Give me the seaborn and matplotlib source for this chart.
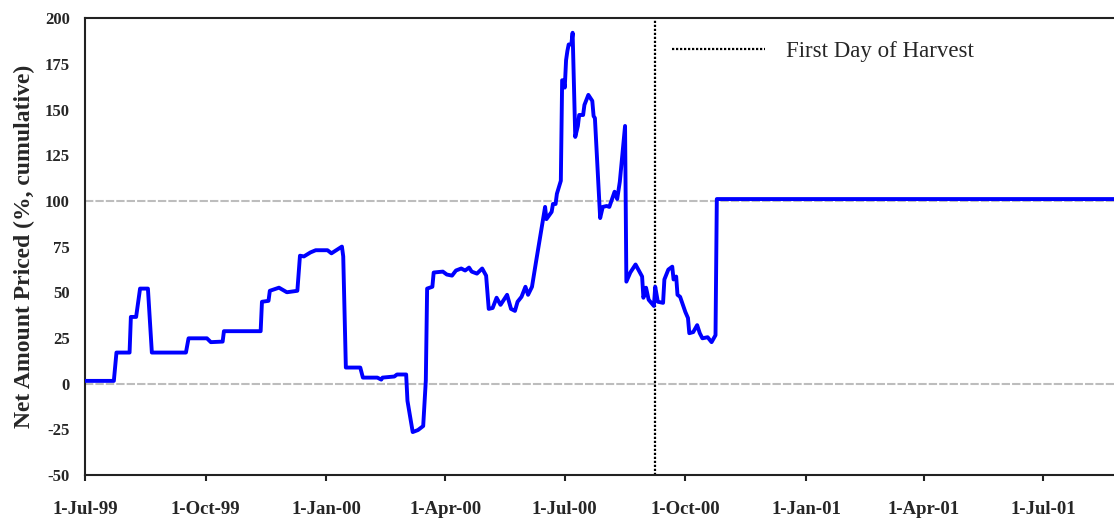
import pandas as pd
import matplotlib
matplotlib.use('Agg')
import matplotlib.pyplot as plt
import matplotlib.dates as mdates
import seaborn as sns

# values
dates = ['1999-07-01', '1999-07-23', '1999-07-25', '1999-08-04', '1999-08-05', '1999-08-09',
         '1999-08-12', '1999-08-18', '1999-08-21', '1999-09-16', '1999-09-18', '1999-10-02',
         '1999-10-05', '1999-10-14', '1999-10-15', '1999-11-12', '1999-11-13', '1999-11-18',
         '1999-11-19', '1999-11-26', '1999-11-30', '1999-12-02', '1999-12-10', '1999-12-12',
         '1999-12-15', '1999-12-20', '1999-12-24', '2000-01-02', '2000-01-05', '2000-01-13',
         '2000-01-14', '2000-01-16', '2000-01-27', '2000-01-29', '2000-02-09', '2000-02-12',
         '2000-02-13', '2000-02-22', '2000-02-24', '2000-03-02', '2000-03-03', '2000-03-07',
         '2000-03-11', '2000-03-15', '2000-03-17', '2000-03-18', '2000-03-22', '2000-03-23',
         '2000-03-30', '2000-04-02', '2000-04-06', '2000-04-09', '2000-04-13', '2000-04-16',
         '2000-04-19', '2000-04-21', '2000-04-25', '2000-04-29', '2000-05-02', '2000-05-04',
         '2000-05-07', '2000-05-10', '2000-05-13', '2000-05-18', '2000-05-21', '2000-05-24',
         '2000-05-26', '2000-05-29', '2000-06-01', '2000-06-03', '2000-06-06', '2000-06-09',
         '2000-06-16', '2000-06-17', '2000-06-21', '2000-06-22', '2000-06-24', '2000-06-25',
         '2000-06-28', '2000-06-29', '2000-06-30', '2000-07-01', '2000-07-02', '2000-07-03',
         '2000-07-04', '2000-07-06', '2000-07-07', '2000-07-09', '2000-07-11', '2000-07-12',
         '2000-07-15', '2000-07-16', '2000-07-19', '2000-07-22', '2000-07-23', '2000-07-24',
         '2000-07-28', '2000-07-30', '2000-08-02', '2000-08-04', '2000-08-08', '2000-08-10',
         '2000-08-12', '2000-08-16', '2000-08-17', '2000-08-20', '2000-08-24', '2000-08-29',
         '2000-08-30', '2000-09-01', '2000-09-03', '2000-09-07', '2000-09-08', '2000-09-10',
         '2000-09-14', '2000-09-15', '2000-09-18', '2000-09-21', '2000-09-22', '2000-09-24',
         '2000-09-25', '2000-09-27', '2000-10-01', '2000-10-03', '2000-10-04', '2000-10-07',
         '2000-10-10', '2000-10-12', '2000-10-14', '2000-10-18', '2000-10-21', '2000-10-24',
         '2000-10-25', '2001-08-31']
net_priced = [1.5, 1.5, 17, 17, 36.5, 36.5,
              52, 52, 17, 17, 24.8, 24.8,
              22.7, 23, 28.7, 28.7, 44.8, 45.3,
              50.8, 52.5, 50.8, 50, 50.8, 70,
              69.6, 71.8, 73, 73, 71.3, 75,
              69.6, 8.8, 8.8, 3.3, 3.3, 2.2,
              3.3, 3.9, 5, 5, -9.4, -26.5,
              -25.4, -23.2, 1.7, 52, 53, 60.8,
              61.3, 59.7, 59.1, 61.9, 63, 61.9,
              63.5, 61.3, 60.2, 63, 59.1, 40.9,
              41.4, 47, 43.1, 48.6, 40.9, 39.8,
              44.8, 47.5, 53, 48.6, 53, 66.3,
              96.7, 90, 94, 98.3, 98.3, 103.9,
              111, 166, 166, 162, 177, 182,
              185.6, 185.6, 192, 135, 141, 147,
              147, 152.5, 158, 154.7, 146.4, 145.3,
              90.6, 96.7, 97.2, 96.7, 105, 101,
              110.5, 141, 55.8, 60.8, 65.2, 58.6,
              47, 52.5, 45.9, 42.5, 53, 44.8,
              44.2, 57, 62.4, 64, 57, 58.6,
              48.6, 47.5, 39.2, 35.9, 27.6, 28.2,
              32, 27.6, 24.8, 25.4, 22.7, 26.5,
              101, 101]
harvest_day = '2000-09-08'
harvest_label = 'First Day of Harvest'
y_ticks = [-50, -25, 0, 25, 50, 75, 100, 125, 150, 175, 200]
ref_lines = [0, 100]

df = pd.DataFrame({'Date': pd.to_datetime(dates), 'Net': net_priced})

sns.set_style('white')
plt.rcParams['font.family'] = ['Liberation Serif', 'DejaVu Serif']
plt.rcParams['axes.unicode_minus'] = False

fig = plt.figure(figsize=(11.14, 5.18), dpi=100)
ax = fig.add_axes([0.0763, 0.083, 0.9237, 0.882])

for v in ref_lines:
    ax.axhline(v, color='#bdbdbd', lw=1.5, linestyle=(0, (4, 1)), zorder=1)

sns.lineplot(data=df, x='Date', y='Net', color='#0000ff', lw=2.8, ax=ax, zorder=3)
ax.axvline(pd.Timestamp(harvest_day), color='black', lw=1.6, linestyle=(0, (1, 0.8)),
           label=harvest_label, zorder=2)

ax.set_xlim(pd.Timestamp('1999-07-01'), pd.Timestamp('2001-08-24'))
ax.set_ylim(-50, 200)
ax.set_yticks(y_ticks)
ax.xaxis.set_major_locator(mdates.MonthLocator(bymonth=[1, 4, 7, 10]))
ax.xaxis.set_major_formatter(mdates.DateFormatter('%-d-%b-%y'))

ax.tick_params(axis='x', direction='out', length=4, width=1.5, pad=15, labelsize=13.5,
               bottom=True, color='#222222')
ax.tick_params(axis='y', length=0, pad=11, labelsize=12)
for lab in ax.get_xticklabels() + ax.get_yticklabels():
    lab.set_fontweight('bold')

ax.set_xlabel('')
ax.set_ylabel('Net Amount Priced (%, cumulative)', fontsize=17, fontweight='bold', labelpad=7)

for side in ['left', 'top', 'bottom']:
    ax.spines[side].set_visible(True)
    ax.spines[side].set_color('#222222')
    ax.spines[side].set_linewidth(1.5)
ax.spines['right'].set_visible(False)

ax.legend(loc='upper left', frameon=False, fontsize=16.5, handlelength=4.1,
          handletextpad=0.9, borderpad=0, borderaxespad=0,
          bbox_to_anchor=(0.570, 0.949))

fig.savefig('out.png', dpi=100)
